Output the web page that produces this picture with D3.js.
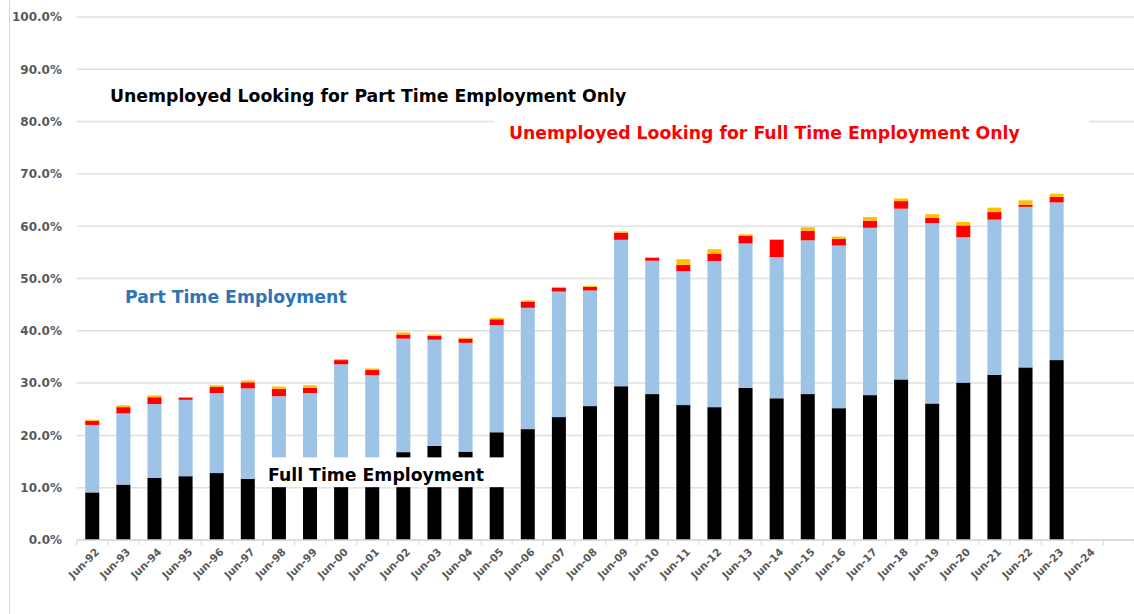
<!DOCTYPE html>
<html>
<head>
<meta charset="utf-8">
<script src="https://cdn.jsdelivr.net/npm/d3@7"></script>
<style>
  html, body { margin: 0; padding: 0; background: #fff; }
  svg { display: block; }
</style>
</head>
<body>
<svg id="chart" width="1134" height="614"></svg>
<script>
// ---- data (percent of population) ----
const categories = ["Jun-92","Jun-93","Jun-94","Jun-95","Jun-96","Jun-97","Jun-98","Jun-99","Jun-00","Jun-01","Jun-02","Jun-03","Jun-04","Jun-05","Jun-06","Jun-07","Jun-08","Jun-09","Jun-10","Jun-11","Jun-12","Jun-13","Jun-14","Jun-15","Jun-16","Jun-17","Jun-18","Jun-19","Jun-20","Jun-21","Jun-22","Jun-23","Jun-24"];
const fullTime      = [9.1,10.6,11.9,12.2,12.8,11.7,12.0,12.5,13.0,13.5,16.8,18.0,16.9,20.6,21.2,23.5,25.6,29.4,27.9,25.8,25.4,29.1,27.1,27.9,25.2,27.7,30.7,26.1,30.1,31.6,33.0,34.4,null];
const partTime      = [12.9,13.6,14.1,14.6,15.3,17.3,15.5,15.6,20.6,18.0,21.7,20.3,20.8,20.5,23.2,24.0,22.1,28.0,25.5,25.6,27.95,27.6,27.0,29.4,31.1,32.0,32.65,34.5,27.8,29.65,30.7,30.15,null];
const unempFullOnly = [0.8,1.2,1.3,0.45,1.15,1.15,1.4,1.0,0.8,1.0,0.8,0.7,0.8,1.1,1.2,0.75,0.7,1.35,0.55,1.2,1.4,1.5,3.3,1.85,1.25,1.35,1.45,1.0,2.25,1.45,0.4,1.05,null];
const unempPartOnly = [0.2,0.35,0.35,0.1,0.35,0.35,0.45,0.5,0.2,0.3,0.4,0.3,0.2,0.25,0.2,0.15,0.2,0.25,0.15,1.1,0.85,0.25,0.15,0.65,0.45,0.7,0.5,0.7,0.65,0.85,0.85,0.6,null];
const yTicks = [0,10,20,30,40,50,60,70,80,90,100];

const seriesKeys   = ["fullTime","partTime","unempFullOnly","unempPartOnly"];
const seriesColors = {fullTime:"#000000", partTime:"#9dc3e6", unempFullOnly:"#ff0000", unempPartOnly:"#ffc000"};

const rows = categories.map((c,i) => ({
  cat: c,
  fullTime: fullTime[i] || 0,
  partTime: partTime[i] || 0,
  unempFullOnly: unempFullOnly[i] || 0,
  unempPartOnly: unempPartOnly[i] || 0
}));

const svg = d3.select("#chart");
const W = 1134, H = 614;
const plotLeft = 76.7, plotRight = 1134, bandRight = 1103.3;
const plotTop = 17, plotBottom = 540;

const x = d3.scaleBand().domain(categories).range([plotLeft, bandRight]).paddingInner(0.55).paddingOuter(0.275);
const y = d3.scaleLinear().domain([0, 100]).range([plotBottom, plotTop]);
const step = x.step();

// chart-area left border
svg.append("line").attr("x1", 9.5).attr("x2", 9.5).attr("y1", 0).attr("y2", H)
  .attr("stroke", "#d9d9d9").attr("stroke-width", 1);

// gridlines
svg.append("g").selectAll("line").data(yTicks).join("line")
  .attr("x1", plotLeft).attr("x2", plotRight)
  .attr("y1", d => y(d)).attr("y2", d => y(d))
  .attr("stroke", "#e0e0e0").attr("stroke-width", 1.5);

// y labels
svg.append("g").selectAll("text").data(yTicks).join("text")
  .attr("x", 62).attr("y", d => y(d)).attr("dy", "0.36em")
  .attr("text-anchor", "end")
  .attr("font-family", "DejaVu Sans, sans-serif").attr("font-weight", "bold")
  .attr("font-size", 12).attr("fill", "#595959")
  .text(d => d.toFixed(1) + "%");

// stacked bars
const stacked = d3.stack().keys(seriesKeys)(rows);
svg.append("g").selectAll("g").data(stacked).join("g")
  .attr("fill", d => seriesColors[d.key])
  .selectAll("rect").data(d => d).join("rect")
  .attr("x", d => x(d.data.cat))
  .attr("width", x.bandwidth())
  .attr("y", d => y(d[1]))
  .attr("height", d => Math.max(0, y(d[0]) - y(d[1])));

// x axis line + ticks
const axisG = svg.append("g");
axisG.append("line").attr("x1", plotLeft).attr("x2", plotRight).attr("y1", plotBottom).attr("y2", plotBottom)
  .attr("stroke", "#d9d9d9").attr("stroke-width", 1.5);
const tickPos = d3.range(categories.length + 2).map(i => plotLeft + i * step);
axisG.selectAll("line.tick").data(tickPos).join("line").attr("class", "tick")
  .attr("x1", d => d).attr("x2", d => d).attr("y1", plotBottom).attr("y2", plotBottom + 5)
  .attr("stroke", "#d9d9d9").attr("stroke-width", 1.2);
axisG.selectAll("text").data(categories).join("text")
  .attr("transform", d => `translate(${x(d) + x.bandwidth() / 2 + 5},${plotBottom + 10}) rotate(-45)`)
  .attr("text-anchor", "end").attr("dy", "0.35em")
  .attr("font-family", "DejaVu Sans, sans-serif").attr("font-weight", "bold")
  .attr("font-size", 10.5).attr("fill", "#595959")
  .text(d => d);

// annotation labels with white boxes
const font = "DejaVu Sans, sans-serif";
const fs = 17.3;
svg.append("rect").attr("x", 257).attr("y", y(15.8)).attr("width", 260).attr("height", y(10.1) - y(15.8)).attr("fill", "#fff");
svg.append("text").attr("x", 268).attr("y", 475).attr("dy", "0.36em")
  .attr("font-family", font).attr("font-weight", "bold").attr("font-size", fs).attr("fill", "#000")
  .text("Full Time Employment");
svg.append("text").attr("x", 125).attr("y", 297).attr("dy", "0.36em")
  .attr("font-family", font).attr("font-weight", "bold").attr("font-size", fs).attr("fill", "#2e75b6")
  .text("Part Time Employment");
svg.append("text").attr("x", 110).attr("y", 96).attr("dy", "0.36em")
  .attr("font-family", font).attr("font-weight", "bold").attr("font-size", fs).attr("fill", "#000")
  .text("Unemployed Looking for Part Time Employment Only");
svg.append("rect").attr("x", 494).attr("y", 115).attr("width", 595).attr("height", 36).attr("fill", "#fff");
svg.append("text").attr("x", 509).attr("y", 133).attr("dy", "0.36em")
  .attr("font-family", font).attr("font-weight", "bold").attr("font-size", fs).attr("fill", "#ff0000")
  .text("Unemployed Looking for Full Time Employment Only");
</script>
</body>
</html>
